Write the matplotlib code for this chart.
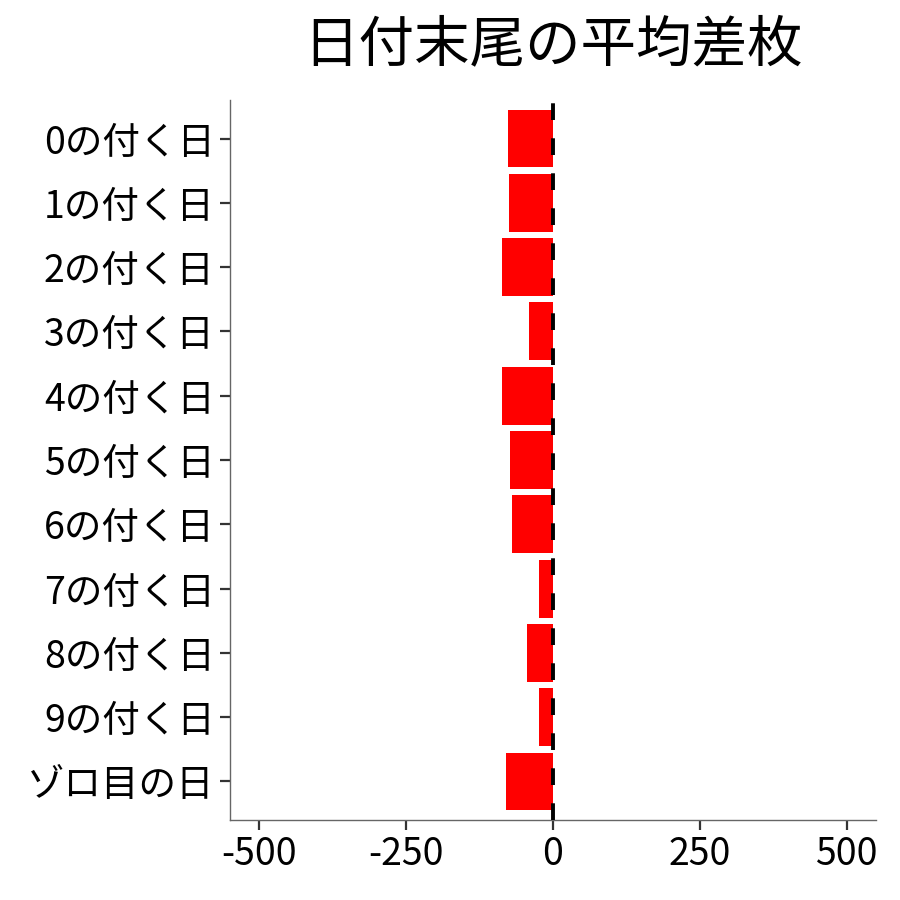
import matplotlib
matplotlib.use("Agg")
import matplotlib.pyplot as plt

plt.rcParams['font.family'] = ['Noto Sans CJK JP', 'DejaVu Sans']

categories = ["0の付く日", "1の付く日", "2の付く日", "3の付く日", "4の付く日",
              "5の付く日", "6の付く日", "7の付く日", "8の付く日", "9の付く日", "ゾロ目の日"]
values = [-77, -75, -86, -41, -86, -73, -70, -24, -44, -24, -80]
xticks = [-500, -250, 0, 250, 500]
xtick_labels = ["-500", "-250", "0", "250", "500"]
title = "日付末尾の平均差枚"

fig = plt.figure(figsize=(9, 9), dpi=100)
ax = fig.add_axes([230/900, 1-820/900, (876-230)/900, (820-100)/900])

n = len(categories)
ypos = list(range(n))[::-1]
ax.barh(ypos, values, height=0.9, color='#FF0000', zorder=2)
ax.axvline(0, color='black', lw=2.8, ls=(0, (4.3, 4.7)), zorder=3)

ax.set_xlim(-550, 550)
ax.set_ylim(-0.6, n - 0.4)
ax.set_xticks(xticks)
ax.set_xticklabels(xtick_labels)
ax.set_yticks(ypos)
ax.set_yticklabels(categories)

for s in ['top', 'right']:
    ax.spines[s].set_visible(False)
for s in ['left', 'bottom']:
    ax.spines[s].set_color('#666666')
    ax.spines[s].set_linewidth(1.0)

ax.tick_params(axis='both', colors='#333333', width=1.6, length=7, labelsize=27, labelcolor='black', pad=4)

fig.text(553/900, 1-45/900, title, ha='center', va='center', fontsize=40, color='black')

fig.savefig("out.png", dpi=100)
